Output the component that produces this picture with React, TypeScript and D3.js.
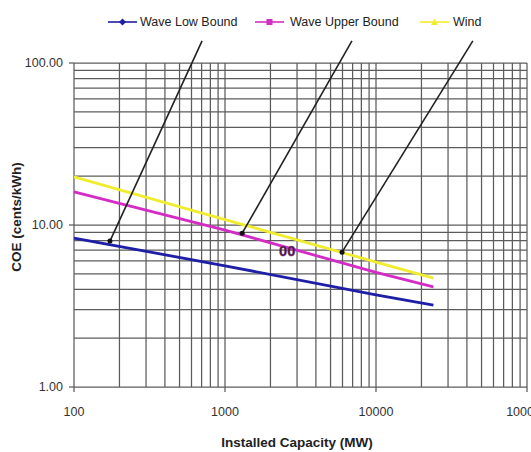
import React from "react";
import * as d3 from "d3";

// ---- data ----
const capacity = [100, 1000, 10000, 24000];
const waveLow = [8.3, 5.6, 3.7, 3.2];
const waveUpper = [16.0, 9.3, 5.1, 4.15];
const wind = [19.8, 10.8, 5.9, 4.7];

const seriesNames = ["Wave Low Bound", "Wave Upper Bound", "Wind"];
const seriesColors = ["#1e1ea6", "#d42cc4", "#f0ec30"];

const xTicks = [100, 1000, 10000, 100000];
const xTickLabels = ["100", "1000", "10000", "100000"];
const yTicks = [1, 10, 100];
const yTickLabels = ["1.00", "10.00", "100.00"];

// annotation arrows (data coordinates)
const arrowFromCap = [705, 6930, 43800];
const arrowFromCoe = [137, 137, 137];
const arrowToCap = [173, 1300, 5960];
const arrowToCoe = [7.96, 8.9, 6.8];

const noteText = "00";
const noteCap = 2580;
const noteCoe = 6.9;

const W = 531;
const H = 452;
const FONT = "'Liberation Sans', Arial, sans-serif";

export default function App() {
  const x = d3.scaleLog().domain([100, 100000]).range([74, 527]);
  const y = d3.scaleLog().domain([1, 100]).range([387, 63]);

  const vGrid: number[] = [];
  [100, 1000, 10000].forEach((d) => {
    for (let k = 1; k <= 9; k++) vGrid.push(d * k);
  });
  vGrid.push(100000);
  const hGrid: number[] = [];
  [1, 10].forEach((d) => {
    for (let k = 1; k <= 9; k++) hGrid.push(d * k);
  });
  hGrid.push(100);

  const data = [waveLow, waveUpper, wind];
  const line = d3
    .line<number>()
    .x((_, i) => x(capacity[i]))
    .y((v) => y(v));

  const [x0, x1] = x.range();
  const [yb, yt] = y.range();
  const gridColor = "#5c5c5c";

  const legendItems = [
    { lx: 108, tx: 140 },
    { lx: 255, tx: 290 },
    { lx: 420, tx: 453 },
  ];
  const legendY = 22;

  const marker = (i: number, cx: number, cy: number) => {
    const c = seriesColors[i];
    if (i === 0)
      return (
        <path
          d={`M${cx},${cy - 3.5}L${cx + 3.5},${cy}L${cx},${cy + 3.5}L${cx - 3.5},${cy}Z`}
          fill={c}
        />
      );
    if (i === 1) return <rect x={cx - 3} y={cy - 3} width={6} height={6} fill={c} />;
    return (
      <path d={`M${cx},${cy - 3.5}L${cx + 3.5},${cy + 3}L${cx - 3.5},${cy + 3}Z`} fill={c} />
    );
  };

  return (
    <svg
      width={W}
      height={H}
      style={{ position: "absolute", left: 0, top: 0, background: "#fff" }}
      fontFamily={FONT}
    >
      <rect x={0} y={0} width={W} height={H} fill="#fff" />
      {/* grid */}
      <g stroke={gridColor} strokeWidth={1.25}>
        {vGrid.map((v) => (
          <line key={"v" + v} x1={x(v)} x2={x(v)} y1={yt} y2={yb} />
        ))}
        {hGrid.map((v) => (
          <line key={"h" + v} x1={x0} x2={x1} y1={y(v)} y2={y(v)} />
        ))}
        {xTicks.map((v) => (
          <line key={"xt" + v} x1={x(v)} x2={x(v)} y1={yb} y2={yb + 5} />
        ))}
        {yTicks.map((v) => (
          <line key={"yt" + v} x1={x0 - 5} x2={x0} y1={y(v)} y2={y(v)} />
        ))}
      </g>
      {/* series */}
      {data.map((s, i) => (
        <path
          key={seriesNames[i]}
          d={line(s) || ""}
          fill="none"
          stroke={seriesColors[i]}
          strokeWidth={2.8}
        />
      ))}
      {/* arrows */}
      {arrowFromCap.map((c, i) => (
        <g key={"a" + i}>
          <line
            x1={x(c)}
            y1={y(arrowFromCoe[i])}
            x2={x(arrowToCap[i])}
            y2={y(arrowToCoe[i])}
            stroke="#222"
            strokeWidth={1.6}
          />
          <circle cx={x(arrowToCap[i])} cy={y(arrowToCoe[i])} r={2.5} fill="#111" />
        </g>
      ))}
      <text
        x={x(noteCap)}
        y={y(noteCoe)}
        textAnchor="middle"
        dominantBaseline="central"
        fontSize={14.5}
        fontWeight="bold"
        fill="#2a1a2a"
        stroke="#9a3a9a"
        strokeWidth={0.5}
      >
        {noteText}
      </text>
      {/* y tick labels */}
      {yTicks.map((v, i) => (
        <text
          key={"yl" + v}
          x={63}
          y={y(v)}
          textAnchor="end"
          dominantBaseline="central"
          fontSize={12.5}
          fill="#333"
        >
          {yTickLabels[i]}
        </text>
      ))}
      {/* x tick labels */}
      {xTicks.map((v, i) => (
        <text
          key={"xl" + v}
          x={x(v)}
          y={412}
          textAnchor="middle"
          dominantBaseline="central"
          fontSize={12.5}
          fill="#333"
        >
          {xTickLabels[i]}
        </text>
      ))}
      {/* axis titles */}
      <text
        x={(x0 + 520) / 2}
        y={442}
        textAnchor="middle"
        dominantBaseline="central"
        fontSize={13.5}
        fontWeight="bold"
        fill="#222"
      >
        Installed Capacity (MW)
      </text>
      <text
        transform={`translate(16,${(yt + yb) / 2 - 8}) rotate(-90)`}
        textAnchor="middle"
        dominantBaseline="central"
        fontSize={13.5}
        fontWeight="bold"
        fill="#222"
      >
        COE (cents/kWh)
      </text>
      {/* legend */}
      {legendItems.map((it, i) => (
        <g key={"lg" + i}>
          <line
            x1={it.lx}
            x2={it.lx + 29}
            y1={legendY}
            y2={legendY}
            stroke={seriesColors[i]}
            strokeWidth={1.6}
          />
          {marker(i, it.lx + 14.5, legendY)}
          <text
            x={it.tx}
            y={legendY}
            dominantBaseline="central"
            fontSize={12.5}
            fill="#222"
          >
            {seriesNames[i]}
          </text>
        </g>
      ))}
    </svg>
  );
}
